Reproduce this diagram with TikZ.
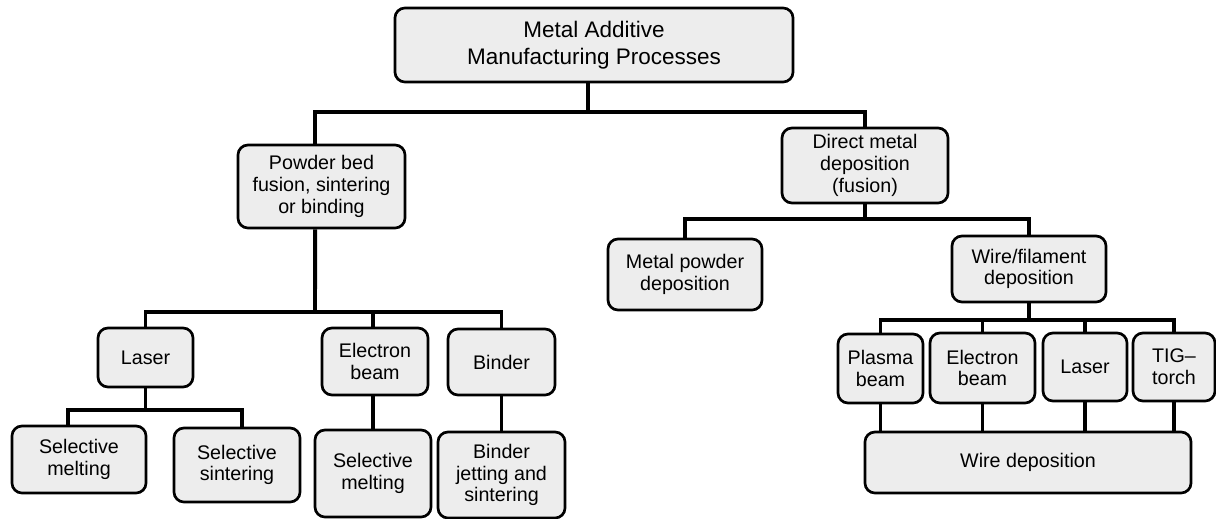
\documentclass[tikz,border=0pt]{standalone}
\usepackage{fontspec}
\setmainfont{Liberation Sans}
\usepackage{tikz}
\usetikzlibrary{calc}
\tikzset{procbox/.style={draw, line width=1.9pt, rounded corners=0.25cm, fill=black!7,
    align=center, inner sep=0pt, font=\fontsize{14}{15.5}\selectfont},
  link/.style={line width=2.8pt}}

\begin{document}
\begin{tikzpicture}[x=0.025cm, y=-0.025cm]
    \path[use as bounding box] (0, 0) rectangle (1216, 519);

    \node[procbox, minimum width=9.95cm, minimum height=1.85cm, font=\fontsize{16}{19}\selectfont] at (594, 45) (top) {Metal Additive\\Manufacturing Processes};
    \node[procbox, minimum width=4.175cm, minimum height=2.075cm] at (321.5, 186.5) (powder) {Powder bed\\fusion, sintering\\or binding};
    \node[procbox, minimum width=4.15cm, minimum height=1.875cm] at (865, 165.5) (direct) {Direct metal\\deposition\\(fusion)};

    % powder bed branch
    \node[procbox, minimum width=2.375cm, minimum height=1.475cm] at (145.5, 357.5) (laserL) {Laser};
    \node[procbox, minimum width=2.65cm, minimum height=1.675cm] at (375, 361.5) (ebeamL) {Electron\\beam};
    \node[procbox, minimum width=2.675cm, minimum height=1.65cm] at (501.5, 362) (binder) {Binder};
    \node[procbox, minimum width=3.35cm, minimum height=1.675cm] at (79, 459.5) (selmelt) {Selective\\melting};
    \node[procbox, minimum width=3.15cm, minimum height=1.85cm] at (237, 465) (selsint) {Selective\\sintering};
    \node[procbox, minimum width=2.9cm, minimum height=2.175cm] at (373, 473.5) (selmeltE) {Selective\\melting};
    \node[procbox, minimum width=3.175cm, minimum height=2.15cm] at (501.5, 475) (binjet) {Binder\\jetting and\\sintering};

    % direct deposition branch
    \node[procbox, minimum width=3.85cm, minimum height=1.775cm] at (685, 274.5) (mpowder) {Metal powder\\deposition};
    \node[procbox, minimum width=3.85cm, minimum height=1.65cm] at (1029, 269) (wirefil) {Wire/filament\\deposition};
    \node[procbox, minimum width=2.125cm, minimum height=1.725cm] at (880.5, 368.5) (plasma) {Plasma\\beam};
    \node[procbox, minimum width=2.625cm, minimum height=1.75cm] at (982.5, 368) (ebeamR) {Electron\\beam};
    \node[procbox, minimum width=2.1cm, minimum height=1.7cm] at (1085, 367) (laserR) {Laser};
    \node[procbox, minimum width=2.05cm, minimum height=1.7cm] at (1174, 367) (tig) {TIG--\\torch};
    \node[procbox, minimum width=8.15cm, minimum height=1.525cm] at (1028, 462.5) (wiredep) {Wire deposition};

    % junctions
    \coordinate (j0) at (588, 112);
    \coordinate (j1) at (315, 312);
    \coordinate (j2) at (145.5, 410);
    \coordinate (j3) at (865, 219);
    \coordinate (j4) at (1029, 320);

    \draw[link] (j0 |- top.south) -- (j0);
    \draw[link] ([xshift=-0.16cm]powder.north) |- (j0) -| (direct.north);
    \draw[link] ([xshift=-0.16cm]powder.south) -- (j1);
    \draw[link] (laserL.north) |- (j1) -| (binder.north);
    \draw[link] (selmeltE.north |- j1) -- (selmeltE.north |- ebeamL.north);
    \draw[link] (laserL) -- (j2);
    \draw[link] ([xshift=-0.275cm]selmelt.north) |- (j2) -| ([xshift=0.125cm]selsint.north);
    \draw[link] (selmeltE.north |- ebeamL.south) -- (selmeltE.north);
    \draw[link] (binder) -- (binjet);

    \draw[link] (direct) -- (j3);
    \draw[link] (mpowder.north) |- (j3) -| (wirefil.north);
    \draw[link] (wirefil) -- (j4);
    \draw[link] (plasma.north) |- (j4) -| (tig.north);
    \draw[link] (ebeamR.north |- j4) -- (ebeamR.north);
    \draw[link] (laserR.north |- j4) -- (laserR.north);
    \draw[link] (plasma) -- (plasma |- wiredep.north);
    \draw[link] (ebeamR) -- (ebeamR |- wiredep.north);
    \draw[link] (laserR) -- (laserR |- wiredep.north);
    \draw[link] (tig) -- (tig |- wiredep.north);
\end{tikzpicture}
\end{document}
